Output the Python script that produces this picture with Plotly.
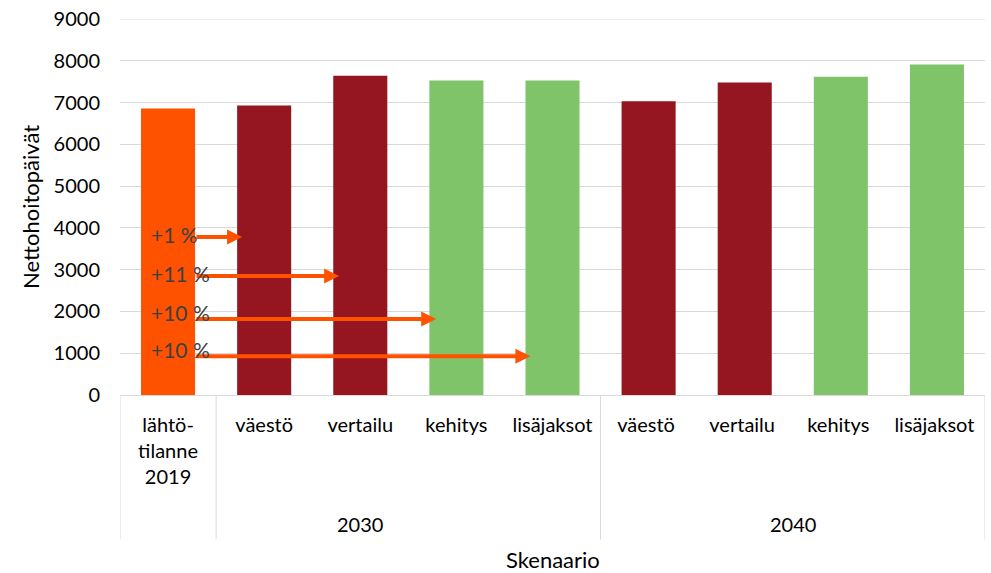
import plotly.graph_objects as go

categories = ["lähtö-<br>tilanne<br>2019", "väestö", "vertailu", "kehitys", "lisäjaksot",
              "väestö ", "vertailu ", "kehitys ", "lisäjaksot "]
values = [6860, 6930, 7640, 7530, 7530, 7030, 7480, 7620, 7910]
bar_colors = ["#FF5200", "#951621", "#951621", "#80C46A", "#80C46A",
              "#951621", "#951621", "#80C46A", "#80C46A"]
groups = ["2030", "2040"]
group_centers = [2, 6.5]
dividers = [-0.5, 0.5, 4.5, 8.5]
pct_labels = ["+1 %", "+11 %", "+10 %", "+10 %"]
pct_text_y = [3840, 2900, 1970, 1090]
arrow_y = [3780, 2850, 1820, 930]
arrow_tip = [0.77, 1.78, 2.79, 3.77]
y_max = 9000

FONT = "Lato"
fig = go.Figure()
fig.add_trace(go.Bar(x=list(range(len(values))), y=values, marker_color=bar_colors,
                     marker_line_width=0, showlegend=False, hoverinfo="skip"))

fig.update_layout(
    width=991, height=573,
    margin=dict(l=120, r=6, t=17, b=178),
    plot_bgcolor="white", paper_bgcolor="white",
    bargap=0.4375,
    font=dict(family=FONT, size=20, color="#000000"),
    showlegend=False,
)
fig.update_xaxes(
    tickmode="array", tickvals=list(range(len(values))), ticktext=categories,
    range=[-0.5, 8.5], showgrid=False, zeroline=False,
    showline=True, linecolor="#d9d9d9", linewidth=1,
    ticks="", ticklabelstandoff=12, tickfont=dict(size=20, family=FONT),
)
fig.update_yaxes(
    range=[0, y_max], dtick=1000, showgrid=True, gridcolor="#d9d9d9", gridwidth=1,
    zeroline=False, showline=False, ticks="", ticklabelstandoff=19,
    tickfont=dict(size=20, family=FONT),
)

shapes = []
for d in dividers:
    shapes.append(dict(type="line", xref="x", yref="paper", x0=d, x1=d, y0=0, y1=-0.384,
                       line=dict(color="#d9d9d9", width=1)))
# top gridline (plotly clips the gridline at the range end)
shapes.append(dict(type="line", xref="paper", yref="y", x0=0, x1=1, y0=y_max, y1=y_max,
                   line=dict(color="#d9d9d9", width=1), layer="below"))
fig.update_layout(shapes=shapes)

for g, c in zip(groups, group_centers):
    fig.add_annotation(x=c, y=-0.344, xref="x", yref="paper", text=g, showarrow=False,
                       font=dict(size=20, family=FONT), xanchor="center", yanchor="middle")

fig.add_annotation(x=0.5, y=-0.4365, xref="paper", yref="paper", text="Skenaario",
                   showarrow=False, font=dict(size=22, family=FONT), yanchor="middle")
fig.add_annotation(x=-0.104, y=0.5, xref="paper", yref="paper", text="Nettohoitopäivät",
                   textangle=-90, showarrow=False, font=dict(size=22, family=FONT),
                   xanchor="center", yanchor="middle")

for ay, tip in zip(arrow_y, arrow_tip):
    fig.add_annotation(x=tip, y=ay, ax=0.28, ay=ay, xref="x", yref="y", axref="x", ayref="y",
                       text="", showarrow=True, arrowhead=2, arrowsize=0.75, arrowwidth=4,
                       arrowcolor="#FF5200", standoff=0, startstandoff=0)
for t, ty in zip(pct_labels, pct_text_y):
    fig.add_annotation(x=-0.2, y=ty, xref="x", yref="y", text=t, showarrow=False,
                       xanchor="left", yanchor="middle",
                       font=dict(size=21, family=FONT, color="#404040"))

fig.write_html("out.html", config={"displayModeBar": False},
               post_script="document.body.style.margin='0';document.body.style.overflow='hidden';")
